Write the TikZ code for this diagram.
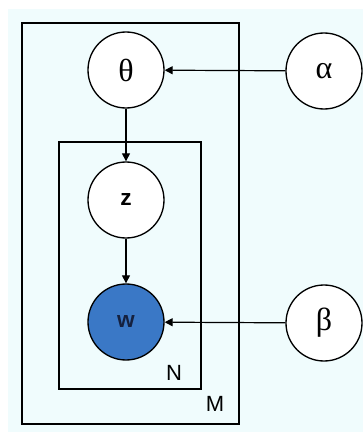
\documentclass[tikz,border=0pt]{standalone}
\usepackage{fontspec}
\setmainfont{Liberation Serif}
\setsansfont{Liberation Sans}
\usetikzlibrary{arrows.meta}
\definecolor{bgc}{HTML}{F0FCFD}
\definecolor{wfill}{HTML}{3A78C6}
\definecolor{wtext}{HTML}{15213F}
\begin{document}
\begin{tikzpicture}[x=0.75pt,y=-0.75pt,
  var/.style={circle,draw=black,line width=1pt,minimum size=57pt,inner sep=0pt,fill=white},
  greek/.style={font=\fontsize{24}{24}\selectfont},
  latin/.style={font=\sffamily\bfseries\fontsize{17}{17}\selectfont},
  plate/.style={draw=black,line width=0.9pt},
  arr/.style={draw=black,line width=0.9pt,-{Triangle[length=6pt,width=6pt]}},
  platelabel/.style={font=\sffamily\fontsize{16.5}{16.5}\selectfont,inner sep=0pt}]
\useasboundingbox (0,0) rectangle (363,432);
\fill[bgc] (8,9) rectangle (363,432);
\draw[plate] (22,23) rectangle (239,424);
\draw[plate] (59,142) rectangle (201,389);
\node[platelabel] (N) at (174,373) {N};
\node[platelabel] (M) at (215,404) {M};
\node[var,greek] (theta) at (126,70) {θ};
\node[var,greek] (alpha) at (324,71) {α};
\node[var,latin] (z) at (126,200) {z};
\node[var,latin,fill=wfill,text=wtext] (w) at (126,322) {w};
\node[var,greek] (beta) at (324,323) {β};
\draw[arr] (alpha) -- (theta);
\draw[arr] (theta) -- (z);
\draw[arr] (z) -- (w);
\draw[arr] (beta) -- (w);
\end{tikzpicture}
\end{document}
